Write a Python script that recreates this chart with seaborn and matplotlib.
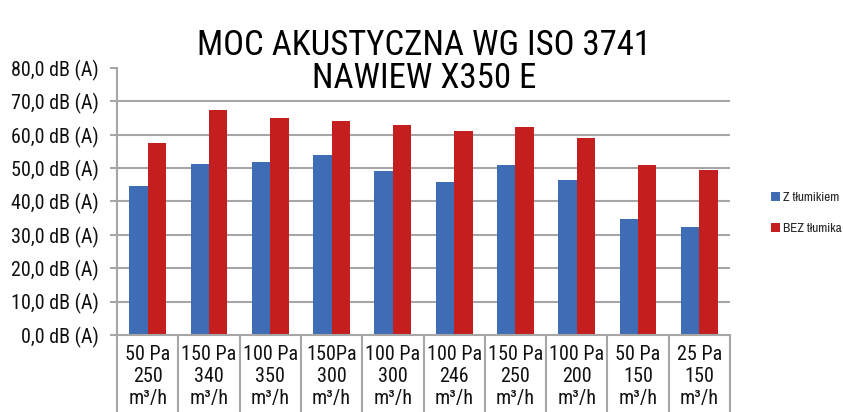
"""Moc akustyczna - nawiew X350 E"""
import matplotlib
matplotlib.use("Agg")
import matplotlib.pyplot as plt
from matplotlib.ticker import FixedLocator, FuncFormatter
import pandas as pd
import seaborn as sns

categories = ["50 Pa\n250\nm³/h", "150 Pa\n340\nm³/h", "100 Pa\n350\nm³/h",
              "150Pa\n300\nm³/h", "100 Pa\n300\nm³/h", "100 Pa\n246\nm³/h",
              "150 Pa\n250\nm³/h", "100 Pa\n200\nm³/h", "50 Pa\n150\nm³/h",
              "25 Pa\n150\nm³/h"]
series = ["Z tłumikiem", "BEZ tłumika"]
z_tlumikiem = [44.6, 51.1, 51.9, 53.8, 49.2, 45.9, 50.9, 46.4, 34.8, 32.4]
bez_tlumika = [57.4, 67.4, 64.9, 64.1, 62.8, 61.1, 62.2, 58.9, 50.8, 49.3]
y_ticks = [0, 10, 20, 30, 40, 50, 60, 70, 80]

df = pd.DataFrame({
    "kategoria": categories * 2,
    "seria": [series[0]] * len(categories) + [series[1]] * len(categories),
    "wartosc": z_tlumikiem + bez_tlumika,
})

sns.set_style("white")
plt.rcParams["font.family"] = ["Roboto Condensed", "Liberation Sans", "DejaVu Sans"]

fig = plt.figure(figsize=(8.43, 4.12), dpi=100)
ax = fig.add_axes([0.1388, 0.187, 0.7272, 0.648])

sns.barplot(data=df, x="kategoria", y="wartosc", hue="seria",
            palette=["#3F6DB5", "#C41E1E"], width=0.6, gap=0,
            saturation=1, linewidth=0, ax=ax)

ax.set_ylim(0, 80)
ax.set_xlim(-0.5, len(categories) - 0.5)
ax.yaxis.set_major_locator(FixedLocator(y_ticks))
ax.yaxis.set_major_formatter(
    FuncFormatter(lambda v, p: f"{v:.1f}".replace(".", ",") + " dB (A)"))
ax.set_xlabel("")
ax.set_ylabel("")

# gridlines without the top one
for v in y_ticks[1:-1]:
    ax.axhline(v, color="#A6A6A6", lw=1.5, zorder=0)

for s in ["top", "right"]:
    ax.spines[s].set_visible(False)
for s in ["left", "bottom"]:
    ax.spines[s].set_color("#A6A6A6")
    ax.spines[s].set_linewidth(1.5)

ax.tick_params(axis="y", left=True, length=5, width=1.5, color="#A6A6A6",
               labelsize=14.5, pad=8, labelcolor="#111111")
ax.tick_params(axis="x", which="major", bottom=False, length=0, labelsize=14.5,
               pad=7, labelcolor="#111111")
for t in ax.get_xticklabels():
    t.set_linespacing(1.2)

# category separators below the axis
ax.xaxis.set_minor_locator(FixedLocator([i - 0.5 for i in range(len(categories) + 1)]))
ax.tick_params(axis="x", which="minor", bottom=True, length=58, width=1.5,
               color="#A6A6A6", direction="out")

ax.legend(loc="center left", bbox_to_anchor=(0.914, 0.483),
          bbox_transform=fig.transFigure, frameon=False,
          prop={"family": ["Archivo Narrow", "PT Sans Narrow",
                           "Roboto Condensed", "DejaVu Sans"],
                "size": 9.5},
          handlelength=0.7, handleheight=0.7, handletextpad=0.25,
          labelspacing=1.5, borderpad=0, borderaxespad=0)

fig.text(0.503, 0.89, "MOC AKUSTYCZNA WG ISO 3741", ha="center", va="center",
         fontsize=25, color="#000000")
fig.text(0.503, 0.81, "NAWIEW X350 E", ha="center", va="center",
         fontsize=25, color="#000000")

fig.savefig("out.png", dpi=100, facecolor="white")
